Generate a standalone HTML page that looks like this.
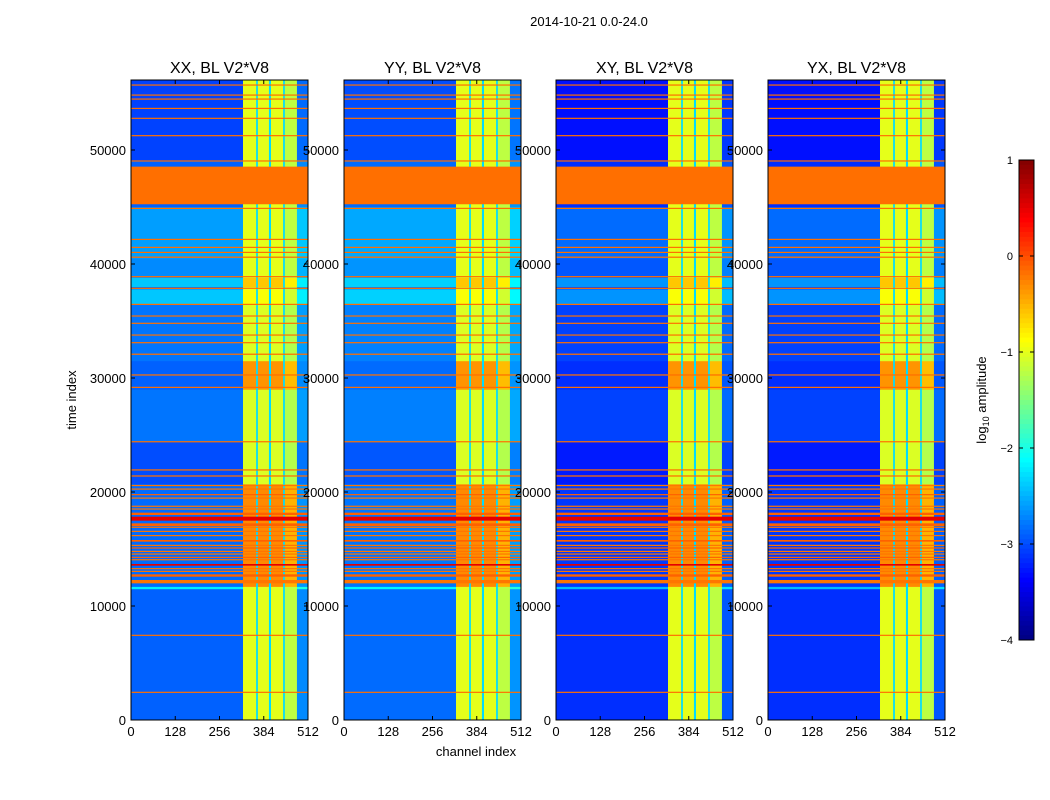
<!DOCTYPE html>
<html><head><meta charset="utf-8"><style>
body{margin:0;background:#fff;}
svg{display:block;font-family:"Liberation Sans",sans-serif;}
</style></head><body>
<svg id="fig" width="1050" height="800" viewBox="0 0 1050 800">
<text x="589" y="26" font-size="13" text-anchor="middle">2014-10-21 0.0-24.0</text>
<text x="76" y="400" font-size="13" text-anchor="middle" transform="rotate(-90 76 400)">time index</text>
<text x="476" y="756" font-size="13" text-anchor="middle">channel index</text>
<g id="panels"></g>
<g id="cbar"></g>
</svg>
<script>
const panelTitles = ["XX, BL V2*V8","YY, BL V2*V8","XY, BL V2*V8","YX, BL V2*V8"];
const panelLeftOffset = [0, 0.05, -0.25, -0.25];
const channelEdges = [0,324,362,367,399,405,440,445,480,512];
const channelKind = ["left","stripe","gap","stripe","gap","stripe","gap","stripe","edge"];
const channelAdj = [0,0,0,0,0,0,0,-0.2,0];
const bandStart = [0,11500,11700,20700,24400,29000,31500,36500,37800,38000,38800,40500,45000,49100];
const bandEnd   = [11500,11700,20700,24400,29000,31500,36500,37800,38000,38800,40500,45000,49100,56140];
const bandLeft  = [-2.9,-2.2,-2.85,-3.0,-2.8,-2.9,-2.8,-2.4,-2.9,-2.4,-2.7,-2.6,-2.9,-3.05];
const bandStripe= [-1.0,-1.0,-0.3,-1.05,-1.05,-0.35,-1.05,-0.9,-1.05,-0.6,-1.0,-1.0,-1.0,-1.0];
const flagStart = [2380,7380,11988,12573,13012,13246,13538,14035,14240,14532,14766,15058,15292,15643,16140,16520,16871,17018,17485,17982,18480,18713,19444,19737,20234,20526,21350,21880,24360,29130,30210,32030,33050,33720,34750,35390,36410,37820,38840,40540,40970,41410,42110,44830,45240,48990,51210,52730,53600,54420,54770,55650];
const flagEnd   = [2480,7480,12281,12778,13090,13330,13684,14110,14320,14610,14840,15140,15370,15789,16230,16600,16960,17251,17836,18187,18560,18800,19520,19820,20310,20620,21460,21990,24460,29230,30320,32140,33150,33820,34850,35490,36510,37920,38940,40650,41070,41510,42210,44930,48540,49090,51310,52830,53700,54520,54870,55750];
const flagLevel = [-0.17,-0.17,-0.2,-0.1,-0.2,-0.2,0.5,-0.2,-0.1,-0.2,-0.2,-0.1,-0.2,-0.1,-0.2,-0.2,-0.2,-0.1,0.5,-0.1,-0.2,-0.2,-0.2,-0.1,-0.2,-0.2,-0.17,-0.17,-0.17,-0.17,-0.17,-0.17,-0.17,-0.17,-0.17,-0.17,-0.17,-0.17,-0.17,-0.17,-0.17,-0.17,-0.17,-0.17,-0.17,-0.17,-0.17,-0.17,-0.17,-0.17,-0.17,-0.17];
const xTicks = [0,128,256,384,512];
const yTicks = [0,10000,20000,30000,40000,50000];
const cbTicks = [1,0,-1,-2,-3,-4];
const panelX = [131,344,556,768];
const NS="http://www.w3.org/2000/svg";
const W=177, Y0=80, Y1=720, TMAX=56140, VMIN=-4, VMAX=1;
function clip(v){return Math.max(0,Math.min(1,v));}
function jet(v){const x=clip((v-VMIN)/(VMAX-VMIN));
 const r=clip(1.5-Math.abs(4*x-3)),g=clip(1.5-Math.abs(4*x-2)),b=clip(1.5-Math.abs(4*x-1));
 return `rgb(${Math.round(r*255)},${Math.round(g*255)},${Math.round(b*255)})`;}
function mk(tag,attrs,parent){const e=document.createElementNS(NS,tag);for(const k in attrs)e.setAttribute(k,attrs[k]);parent.appendChild(e);return e;}
function yS(t){return Y1-(t/TMAX)*(Y1-Y0);}
const panels=document.getElementById('panels');
panelTitles.forEach((title,p)=>{
 const x0=panelX[p];
 const xS=c=>x0+c/512*W;
 const g=mk('g',{},panels);
 
 
 for(let b=0;b<bandStart.length;b++){
  for(let c=0;c<channelKind.length;c++){
   let v;const k=channelKind[c];
   if(k==='left')v=bandLeft[b]+panelLeftOffset[p];
   else if(k==='stripe')v=bandStripe[b]+channelAdj[c];
   else if(k==='gap')v=-2.3;
   else v=bandLeft[b]+0.2+panelLeftOffset[p];
   const r=mk('rect',{x:xS(channelEdges[c]),y:yS(bandEnd[b]),width:xS(channelEdges[c+1])-xS(channelEdges[c])+0.3,height:yS(bandStart[b])-yS(bandEnd[b])+0.3,fill:jet(v)},g);
   
   
  }
 }
 for(let f=0;f<flagStart.length;f++){
  const h=Math.max(1.2,yS(flagStart[f])-yS(flagEnd[f]));
  const r=mk('rect',{x:x0,y:yS(flagEnd[f]),width:W,height:h,fill:jet(flagLevel[f])},g);
  
  
 }
 const fr=mk('rect',{x:x0,y:Y0,width:W,height:Y1-Y0,fill:'none',stroke:'#000','stroke-width':1},g);
 
 
 const tt=mk('text',{x:x0+W/2,y:73,'font-size':16,'text-anchor':'middle'},g);tt.textContent=title;
 
 
 xTicks.forEach(t=>{
  mk('line',{x1:xS(t),x2:xS(t),y1:Y1,y2:Y1-4,stroke:'#000'},g);
  mk('line',{x1:xS(t),x2:xS(t),y1:Y0,y2:Y0+4,stroke:'#000'},g);
  const l=mk('text',{x:xS(t),y:736,'font-size':13,'text-anchor':'middle'},g);l.textContent=t;
  
  
 });
 yTicks.forEach(t=>{
  mk('line',{x1:x0,x2:x0+4,y1:yS(t),y2:yS(t),stroke:'#000'},g);
  mk('line',{x1:x0+W,x2:x0+W-4,y1:yS(t),y2:yS(t),stroke:'#000'},g);
  const l=mk('text',{x:x0-5,y:yS(t)+5,'font-size':13,'text-anchor':'end'},g);l.textContent=t;
  
  
 });
});
const cb=document.getElementById('cbar');
const CX=1019,CW=15,CT=160,CB=640;
const cbS=v=>CT+(VMAX-v)/(VMAX-VMIN)*(CB-CT);
for(let i=0;i<100;i++){
 const v0=VMAX-i*(VMAX-VMIN)/100, v1=VMAX-(i+1)*(VMAX-VMIN)/100;
 const r=mk('rect',{x:CX,y:cbS(v0),width:CW,height:cbS(v1)-cbS(v0)+0.5,fill:jet((v0+v1)/2)},cb);
 
 
}
mk('rect',{x:CX,y:CT,width:CW,height:CB-CT,fill:'none',stroke:'#000'},cb);
cbTicks.forEach(v=>{
 mk('line',{x1:CX+CW,x2:CX+CW-4,y1:cbS(v),y2:cbS(v),stroke:'#000'},cb);
 mk('line',{x1:CX,x2:CX+4,y1:cbS(v),y2:cbS(v),stroke:'#000'},cb);
 const l=mk('text',{x:1013,y:cbS(v)+4,'font-size':11,'text-anchor':'end'},cb);l.textContent=(v<0?'\u2212'+(-v):v);
 
 
});
const lab=mk('text',{x:986,y:400,'font-size':13,'text-anchor':'middle',transform:'rotate(-90 986 400)'},cb);
lab.innerHTML='log<tspan font-size="9" dy="3">10</tspan><tspan dy="-3"> amplitude</tspan>';


</script>
</body></html>
